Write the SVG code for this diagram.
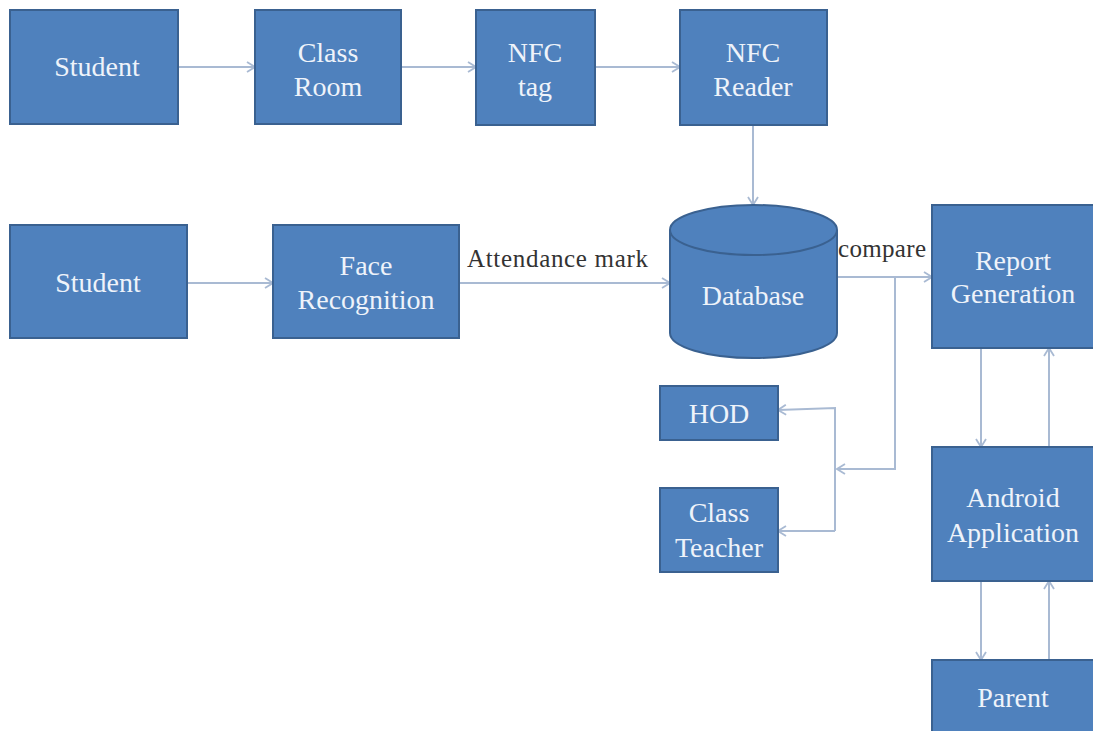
<svg xmlns="http://www.w3.org/2000/svg" width="1093" height="731" viewBox="0 0 1093 731">
<style>
.box{fill:#4F81BD;stroke:#3A6190;stroke-width:2}
.t{font-family:'Liberation Serif',Tinos,'Times New Roman','Noto Serif','DejaVu Serif',serif;font-size:28px;fill:#EEF3FA;text-anchor:middle}
.lbl{font-family:'Liberation Serif',Tinos,'Times New Roman','Noto Serif','DejaVu Serif',serif;font-size:25px;fill:#333}
.c{fill:none;stroke:#A9BAD3;stroke-width:2}
</style>
<defs>
<marker id="ah" viewBox="0 0 12 12" refX="11" refY="6" markerWidth="12" markerHeight="12" markerUnits="userSpaceOnUse" orient="auto">
<path d="M3,1 L11,6 L3,11" fill="none" stroke="#A9BAD3" stroke-width="1.8"/>
</marker>
</defs>
<rect width="1093" height="731" fill="#fff"/>
<g id="connectors">
<line class="c" x1="178" y1="67" x2="255" y2="67" marker-end="url(#ah)"/>
<line class="c" x1="401" y1="67" x2="476" y2="67" marker-end="url(#ah)"/>
<line class="c" x1="595" y1="67" x2="680" y2="67" marker-end="url(#ah)"/>
<line class="c" x1="753" y1="125" x2="753" y2="205" marker-end="url(#ah)"/>
<line class="c" x1="187" y1="283" x2="273" y2="283" marker-end="url(#ah)"/>
<line class="c" x1="459" y1="283" x2="670" y2="283" marker-end="url(#ah)"/>
<line class="c" x1="837" y1="277" x2="932" y2="277" marker-end="url(#ah)"/>
<polyline class="c" points="895,277 895,469 837,469" marker-end="url(#ah)"/>
<polyline class="c" points="835,531 835,408 778,410" marker-end="url(#ah)"/>
<line class="c" x1="835" y1="531" x2="778" y2="531" marker-end="url(#ah)"/>
<line class="c" x1="981" y1="348" x2="981" y2="447" marker-end="url(#ah)"/>
<line class="c" x1="1049" y1="447" x2="1049" y2="348" marker-end="url(#ah)"/>
<line class="c" x1="981" y1="581" x2="981" y2="660" marker-end="url(#ah)"/>
<line class="c" x1="1049" y1="660" x2="1049" y2="581" marker-end="url(#ah)"/>
<text class="lbl" x="467" y="267" textLength="181">Attendance mark</text>
<text class="lbl" x="838" y="257" textLength="88">compare</text>
</g>
<g id="student1"><rect class="box" x="10" y="10" width="168" height="114"/><text class="t" x="97" y="76">Student</text></g>
<g id="classroom"><rect class="box" x="255" y="10" width="146" height="114"/><text class="t" x="328" y="62">Class</text><text class="t" x="328" y="96">Room</text></g>
<g id="nfctag"><rect class="box" x="476" y="10" width="119" height="115"/><text class="t" x="535" y="62">NFC</text><text class="t" x="535" y="96">tag</text></g>
<g id="nfcreader"><rect class="box" x="680" y="10" width="147" height="115"/><text class="t" x="753" y="62">NFC</text><text class="t" x="753" y="96">Reader</text></g>
<g id="student2"><rect class="box" x="10" y="225" width="177" height="113"/><text class="t" x="98" y="292">Student</text></g>
<g id="face"><rect class="box" x="273" y="225" width="186" height="113"/><text class="t" x="366" y="275">Face</text><text class="t" x="366" y="309">Recognition</text></g>
<g id="database">
<path class="box" d="M670,230 L670,333 A83.5,25 0 0 0 837,333 L837,230"/>
<ellipse class="box" cx="753.5" cy="230" rx="83.5" ry="25"/>
<text class="t" x="753" y="305">Database</text>
</g>
<g id="report"><rect class="box" x="932" y="205" width="162" height="143"/><text class="t" x="1013" y="270">Report</text><text class="t" x="1013" y="303">Generation</text></g>
<g id="hod"><rect class="box" x="660" y="386" width="118" height="54"/><text class="t" x="719" y="423">HOD</text></g>
<g id="classteacher"><rect class="box" x="660" y="488" width="118" height="84"/><text class="t" x="719" y="522">Class</text><text class="t" x="719" y="557">Teacher</text></g>
<g id="android"><rect class="box" x="932" y="447" width="162" height="134"/><text class="t" x="1013" y="507">Android</text><text class="t" x="1013" y="542">Application</text></g>
<g id="parent"><rect class="box" x="932" y="660" width="162" height="80"/><text class="t" x="1013" y="707">Parent</text></g>
</svg>
